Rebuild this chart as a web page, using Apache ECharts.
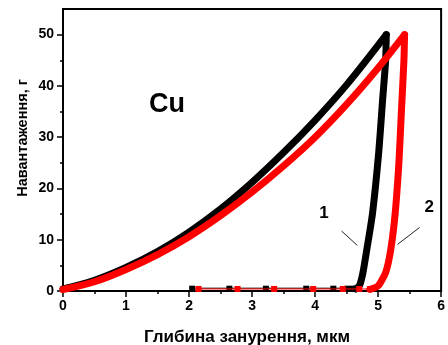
<!DOCTYPE html>
<html>
<head>
<meta charset="utf-8">
<script src="https://cdn.jsdelivr.net/npm/echarts@6/dist/echarts.min.js"></script>
<style>
  html, body { margin: 0; padding: 0; background: #fff; }
  #chart { width: 448px; height: 345px; }
</style>
</head>
<body>
<div id="chart"></div>
<script>
// Indentation curves for Cu: load (g) versus indentation depth (µm)

// Curve 1 — loading branch
const load1Depth = [0, 0.5, 1.0, 1.5, 2.0, 2.5, 3.0, 3.5, 4.0, 4.5, 5.13];
const load1Force = [0.4, 2.1, 4.6, 7.7, 11.5, 16.0, 21.2, 27.0, 33.3, 40.2, 50];
// Curve 1 — unloading branch
const unload1Depth = [5.13, 5.12, 5.07, 5.01, 4.91, 4.82, 4.76, 4.71, 4.65];
const unload1Force = [50, 45, 37, 27, 15, 8, 3.6, 1.2, 0.4];
// Curve 1 — indenter withdrawal points near zero load
const tail1Depth = [4.65, 4.60, 4.51, 4.29, 3.86, 3.22, 2.64, 2.05];
const tail1Force = [0.55, 0.55, 0.55, 0.55, 0.55, 0.55, 0.55, 0.55];

// Curve 2 — loading branch
const load2Depth = [0, 0.5, 1.0, 1.5, 2.0, 2.5, 3.0, 3.5, 4.0, 4.5, 5.0, 5.42];
const load2Force = [0.3, 1.8, 4.2, 7.1, 10.6, 14.7, 19.3, 24.4, 30.0, 36.4, 43.5, 50];
// Curve 2 — unloading branch
const unload2Depth = [5.42, 5.41, 5.37, 5.33, 5.27, 5.20, 5.12, 5.00, 4.87];
const unload2Force = [50, 45, 35, 25, 15, 8, 3.6, 1.0, 0.3];
// Curve 2 — indenter withdrawal points near zero load
const tail2Depth = [4.87, 4.70, 4.44, 3.97, 3.35, 2.77, 2.15];
const tail2Force = [0.4, 0.4, 0.4, 0.4, 0.4, 0.4, 0.4];

// Axis ticks
const xTicks = [0, 1, 2, 3, 4, 5, 6];
const yMajorTicks = [0, 10, 20, 30, 40, 50];
const yMinorTicks = [5, 15, 25, 35, 45];

// Annotation texts and anchors (data coordinates)
const sampleLabel = 'Cu';
const sampleLabelAt = [1.65, 36.3];
const curveLabels = ['1', '2'];
const curveLabelAt = [[4.14, 15.2], [5.81, 16.3]];
const leaderLines = [[[4.42, 11.7], [4.67, 8.9]], [[5.66, 12.4], [5.31, 9.1]]];

const xTitle = 'Глибина занурення, мкм';
const yTitle = 'Навантаження, г';

const FONT = '"Liberation Sans", Arial, sans-serif';
const zip = (a, b) => a.map((v, i) => [v, b[i]]);

const thick = (color, depth, force, z, smooth) => ({
  type: 'line', xAxisIndex: 0, yAxisIndex: 0,
  data: zip(depth, force), smooth: smooth, symbol: 'none',
  lineStyle: { color: color, width: 7, cap: 'round', join: 'round' },
  z: z, silent: true, animation: false
});
const tail = (color, depth, force, z, size) => ({
  type: 'line', xAxisIndex: 0, yAxisIndex: 0,
  data: zip(depth, force), symbol: 'rect', symbolSize: size, showSymbol: true,
  showAllSymbol: true, clip: false,
  itemStyle: { color: color }, lineStyle: { color: color, width: 1 },
  z: z, silent: true, animation: false
});

const chart = echarts.init(document.getElementById('chart'), null, { renderer: 'canvas' });

const option = {
  animation: false,
  backgroundColor: '#fff',
  grid: { left: 63, right: 3, top: 9, bottom: 54, show: true, borderColor: '#000', borderWidth: 2, backgroundColor: 'transparent' },
  xAxis: [{
    type: 'value', min: xTicks[0], max: xTicks[xTicks.length - 1], interval: 1,
    axisLine: { show: true, onZero: false, lineStyle: { color: '#000', width: 2 } },
    axisTick: { show: true, inside: false, length: 6, lineStyle: { color: '#000', width: 1.5 } },
    minorTick: { show: true, splitNumber: 2, length: 3, lineStyle: { color: '#000', width: 1.5 } },
    axisLabel: { color: '#000', fontFamily: FONT, fontWeight: 'bold', fontSize: 14, margin: 8 },
    splitLine: { show: false }
  }],
  yAxis: [{
    type: 'value', min: 0, max: 55, interval: 10,
    axisLine: { show: true, onZero: false, lineStyle: { color: '#000', width: 2 } },
    axisTick: { show: true, inside: false, length: 6, customValues: yMajorTicks, lineStyle: { color: '#000', width: 1.5 } },
    axisLabel: { color: '#000', fontFamily: FONT, fontWeight: 'bold', fontSize: 14, margin: 9, customValues: yMajorTicks },
    splitLine: { show: false }
  }, {
    type: 'value', min: 0, max: 55, position: 'left',
    axisLine: { show: false },
    axisTick: { show: true, inside: false, length: 3, customValues: yMinorTicks, lineStyle: { color: '#000', width: 1.5 } },
    axisLabel: { show: false },
    splitLine: { show: false }
  }],
  series: [
    tail('#000', tail1Depth, tail1Force, 6, [6, 5]),
    tail('#ff0000', tail2Depth, tail2Force, 7, [6, 6]),
    thick('#000', load1Depth, load1Force, 4, 0.35),
    thick('#000', unload1Depth, unload1Force, 4, 0.2),
    thick('#ff0000', load2Depth, load2Force, 5, 0.35),
    thick('#ff0000', unload2Depth, unload2Force, 5, 0.2)
  ]
};
chart.setOption(option);

// Annotations placed through the axis scales
const px = p => chart.convertToPixel({ xAxisIndex: 0, yAxisIndex: 0 }, p);
const graphics = [];
const cu = px(sampleLabelAt);
graphics.push({
  type: 'text', x: cu[0], y: cu[1], silent: true,
  style: { text: sampleLabel, font: 'bold 27px ' + FONT, fill: '#000', align: 'center', verticalAlign: 'middle' }
});
curveLabels.forEach((t, i) => {
  const p = px(curveLabelAt[i]);
  graphics.push({
    type: 'text', x: p[0], y: p[1], silent: true,
    style: { text: t, font: 'bold 17px ' + FONT, fill: '#000', align: 'center', verticalAlign: 'middle' }
  });
  const a = px(leaderLines[i][0]);
  const b = px(leaderLines[i][1]);
  graphics.push({
    type: 'line', silent: true,
    shape: { x1: a[0], y1: a[1], x2: b[0], y2: b[1] },
    style: { stroke: '#222', lineWidth: 1 }
  });
});
// Axis titles
graphics.push({
  type: 'text', x: 247, y: 337, silent: true,
  style: { text: xTitle, font: 'bold 17px ' + FONT, fill: '#000', align: 'center', verticalAlign: 'middle' }
});
graphics.push({
  type: 'text', x: 23, y: 138, rotation: Math.PI / 2, silent: true,
  style: { text: yTitle, font: 'bold 14.5px ' + FONT, fill: '#000', align: 'center', verticalAlign: 'middle' }
});
chart.setOption({ graphic: graphics });
</script>
</body>
</html>
